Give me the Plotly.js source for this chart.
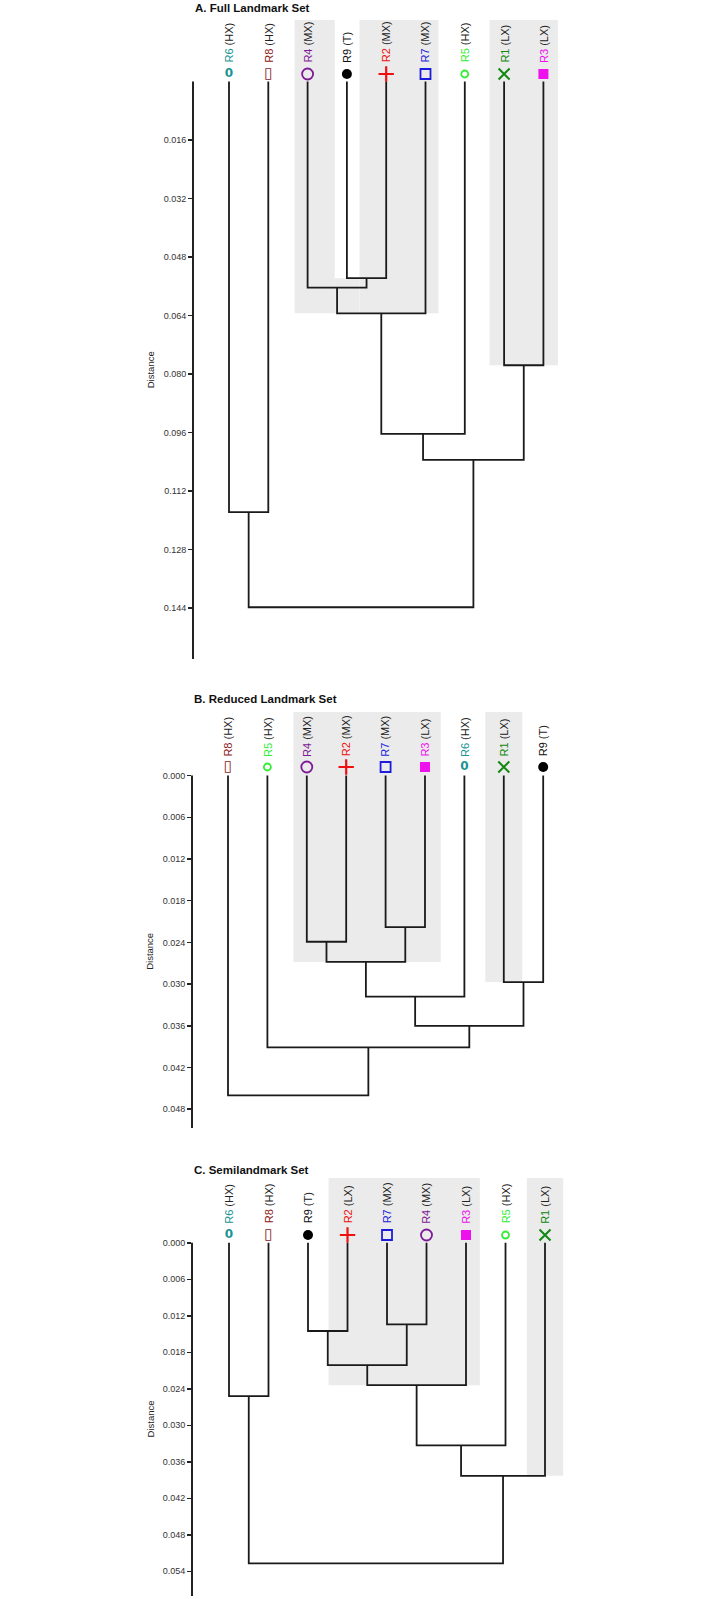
<!DOCTYPE html>
<html><head><meta charset="utf-8">
<script src="https://cdn.plot.ly/plotly-3.0.1.min.js"></script>
<style>body{margin:0;background:#fff}#plot{width:709px;height:1599px}</style>
</head><body><div id="plot"></div>
<script>
// ---------------- DATA ----------------
// Panel A: Full Landmark Set
const titleA = 'A. Full Landmark Set';
const leavesA = ['R6','R8','R4','R9','R2','R7','R5','R1','R3'];
const groupsA = ['HX','HX','MX','T','MX','MX','HX','LX','LX'];
const linkLeftA   = [3, 2, 10, 7, 11, 13, 0, 15];
const linkRightA  = [4, 9, 5, 8, 6, 12, 1, 14];
const linkHeightA = [0.0538, 0.0564, 0.0634, 0.0776, 0.0964, 0.1035, 0.1178, 0.1438];
const ticksA = [0.016, 0.032, 0.048, 0.064, 0.080, 0.096, 0.112, 0.128, 0.144];
const boxX0A = [2.67, 3.69, 4.32, 7.63];
const boxX1A = [3.69, 4.32, 6.33, 9.37];
const boxTopA = [-0.0168, 0.0538, -0.0168, -0.0168];
const boxBottomA = [0.0634, 0.0634, 0.0634, 0.0776];

// Panel B: Reduced Landmark Set
const titleB = 'B. Reduced Landmark Set';
const leavesB = ['R8','R5','R4','R2','R7','R3','R6','R1','R9'];
const groupsB = ['HX','HX','MX','MX','MX','LX','HX','LX','T'];
const linkLeftB   = [4, 2, 10, 7, 11, 13, 1, 0];
const linkRightB  = [5, 3, 9, 8, 6, 12, 14, 15];
const linkHeightB = [0.0218, 0.0239, 0.0268, 0.0297, 0.0318, 0.0360, 0.0391, 0.0460];
const ticksB = [0.000, 0.006, 0.012, 0.018, 0.024, 0.030, 0.036, 0.042, 0.048];
const boxX0B = [2.66, 7.53];
const boxX1B = [6.40, 8.47];
const boxTopB = [-0.00915, -0.00915];
const boxBottomB = [0.0268, 0.0297];

// Panel C: Semilandmark Set
const titleC = 'C. Semilandmark Set';
const leavesC = ['R6','R8','R9','R2','R7','R4','R3','R5','R1'];
const groupsC = ['HX','HX','T','LX','MX','MX','LX','HX','LX'];
const linkLeftC   = [4, 2, 10, 11, 0, 12, 14, 13];
const linkRightC  = [5, 3, 9, 6, 1, 7, 8, 15];
const linkHeightC = [0.0134, 0.0145, 0.0201, 0.0234, 0.0252, 0.0333, 0.0383, 0.0527];
const ticksC = [0.000, 0.006, 0.012, 0.018, 0.024, 0.030, 0.036, 0.042, 0.048, 0.054];
const boxX0C = [3.52, 8.54];
const boxX1C = [7.35, 9.46];
const boxTopC = [-0.01065, -0.01065];
const boxBottomC = [0.0234, 0.0383];

// Region styling (colour / symbol)
const regionNames   = ['R1','R2','R3','R4','R5','R6','R7','R8','R9'];
const regionColors  = ['#118811','#ee1111','#ee11ee','#7d1a96','#33ee33','#1a9494','#1c1cdd','#8b1616','#000000'];
const regionSymbols = ['x-thin-open','cross-thin-open','square','circle-open','circle-open','text:0','square-open','text:\u25AF','circle'];
const regionSizes   = [11, 11, 10, 11, 7, 12, 10, 15, 10];
const regionLineW   = [2, 2.2, 0, 1.8, 1.8, 0, 1.8, 0, 0];

// ---------------- LAYOUT CONFIG ----------------
const W = 709, H = 1599;
const panels = [
  {title: titleA, leaves: leavesA, groups: groupsA, L: linkLeftA, R: linkRightA, Hh: linkHeightA, ticks: ticksA,
   bx0: boxX0A, bx1: boxX1A, bt: boxTopA, bb: boxBottomA,
   xdom: [193, 600], xrange: [0.084, 10.44], ydom: [15, 659], yrange: [0.15795, -0.01819], markerY: -0.00205, titleY: 8},
  {title: titleB, leaves: leavesB, groups: groupsB, L: linkLeftB, R: linkRightB, Hh: linkHeightB, ticks: ticksB,
   bx0: boxX0B, bx1: boxX1B, bt: boxTopB, bb: boxBottomB,
   xdom: [192, 600], xrange: [0.0863, 10.442], ydom: [705, 1128], yrange: [0.0507, -0.01016], markerY: -0.00124, titleY: 699},
  {title: titleC, leaves: leavesC, groups: groupsC, L: linkLeftC, R: linkRightC, Hh: linkHeightC, ticks: ticksC,
   bx0: boxX0C, bx1: boxX1C, bt: boxTopC, bb: boxBottomC,
   xdom: [192, 600], xrange: [0.0633, 10.392], ydom: [1172, 1596], yrange: [0.05806, -0.01164], markerY: -0.00128, titleY: 1170}
];

const traces = [], shapes = [], annotations = [];
const layout = {
  width: W, height: H, margin: {l: 0, r: 0, t: 0, b: 0},
  paper_bgcolor: '#fff', plot_bgcolor: 'rgba(0,0,0,0)',
  showlegend: false, hovermode: false,
  font: {family: 'Liberation Sans, Arial, sans-serif', color: '#222'}
};

panels.forEach((p, pi) => {
  const sfx = pi === 0 ? '' : String(pi + 1);
  const xa = 'x' + sfx, ya = 'y' + sfx;
  layout['xaxis' + sfx] = {
    domain: [p.xdom[0] / W, p.xdom[1] / W], range: p.xrange, anchor: ya,
    visible: false, fixedrange: true
  };
  layout['yaxis' + sfx] = {
    domain: [1 - p.ydom[1] / H, 1 - p.ydom[0] / H], range: p.yrange, anchor: xa,
    showline: false, showgrid: false, zeroline: false,
    ticks: 'outside', ticklen: 4, tickwidth: 1.5, tickcolor: '#222',
    tickmode: 'array', tickvals: p.ticks, tickformat: '.3f',
    tickfont: {size: 9, color: '#333', family: 'Liberation Sans, Arial, sans-serif'},
    fixedrange: true
  };
  const yMax = p.yrange[0];

  // axis line (only the distance part)
  shapes.push({type: 'line', xref: 'paper', yref: ya, x0: p.xdom[0] / W, x1: p.xdom[0] / W,
    y0: 0, y1: yMax, line: {color: '#222', width: 2}, layer: 'above'});

  // highlight boxes
  for (let i = 0; i < p.bx0.length; i++) {
    shapes.push({type: 'rect', xref: xa, yref: ya, x0: p.bx0[i], x1: p.bx1[i], y0: p.bt[i], y1: p.bb[i],
      fillcolor: '#ebebeb', line: {width: 0}, layer: 'below'});
  }

  // dendrogram lines from linkage
  const nx = p.leaves.map((_, i) => i + 1);
  const ny = p.leaves.map(() => 0);
  const xs = [], ys = [];
  for (let k = 0; k < p.L.length; k++) {
    const a = p.L[k], b = p.R[k], h = p.Hh[k];
    xs.push(nx[a], nx[a], nx[b], nx[b], null);
    ys.push(ny[a], h, h, ny[b], null);
    nx.push((nx[a] + nx[b]) / 2); ny.push(h);
  }
  traces.push({type: 'scatter', mode: 'lines', x: xs, y: ys, xaxis: xa, yaxis: ya,
    line: {color: '#1a1a1a', width: 1.8}, hoverinfo: 'skip'});

  // leaf markers
  const mx = [], my = [], msym = [], mcol = [], msize = [], mlw = [];
  const tx = [], ty = [], ttext = [], tcol = [], tsize = [];
  p.leaves.forEach((name, i) => {
    const r = regionNames.indexOf(name);
    const sym = regionSymbols[r];
    if (sym.startsWith('text:')) {
      tx.push(i + 1); ty.push(p.markerY); ttext.push(sym.slice(5)); tcol.push(regionColors[r]); tsize.push(regionSizes[r]);
    } else {
      mx.push(i + 1); my.push(p.markerY); msym.push(sym); mcol.push(regionColors[r]);
      msize.push(regionSizes[r]); mlw.push(regionLineW[r]);
    }
    // rotated label
    const g = p.groups[i];
    const labelCol = name === 'R9' ? '#111' : regionColors[r];
    annotations.push({xref: xa, yref: ya, x: i + 1, y: 0, yshift: 18, yanchor: 'bottom', xanchor: 'center',
      text: '<span style="color:' + labelCol + '">' + name + '</span> (' + g + ')',
      textangle: -90, showarrow: false, borderpad: 0,
      font: {size: 11, color: '#222', family: 'Liberation Sans, Arial, sans-serif'}});
  });
  traces.push({type: 'scatter', mode: 'markers', x: mx, y: my, xaxis: xa, yaxis: ya, cliponaxis: false,
    marker: {symbol: msym, color: mcol, size: msize, opacity: 1, line: {color: mcol, width: mlw}}, hoverinfo: 'skip'});
  traces.push({type: 'scatter', mode: 'text', x: tx, y: ty, text: ttext, xaxis: xa, yaxis: ya, cliponaxis: false,
    textposition: 'middle center',
    textfont: {color: tcol, size: tsize, family: 'DejaVu Sans, sans-serif', weight: 'bold'}, hoverinfo: 'skip'});

  // title
  annotations.push({xref: 'paper', yref: 'paper', x: p.xdom[0] / W, y: 1 - p.titleY / H,
    xanchor: 'left', yanchor: 'middle', showarrow: false, text: '<b>' + p.title + '</b>',
    font: {size: 11.5, color: '#111', family: 'Liberation Sans, Arial, sans-serif'}});
  // axis title
  annotations.push({xref: 'paper', yref: ya, x: 150 / W, y: yMax / 2, xanchor: 'center', yanchor: 'middle',
    textangle: -90, showarrow: false, text: 'Distance',
    font: {size: 9.5, color: '#222', family: 'Liberation Sans, Arial, sans-serif'}});
});

layout.shapes = shapes;
layout.annotations = annotations;
Plotly.newPlot('plot', traces, layout, {displayModeBar: false, staticPlot: true});
</script>
</body></html>
